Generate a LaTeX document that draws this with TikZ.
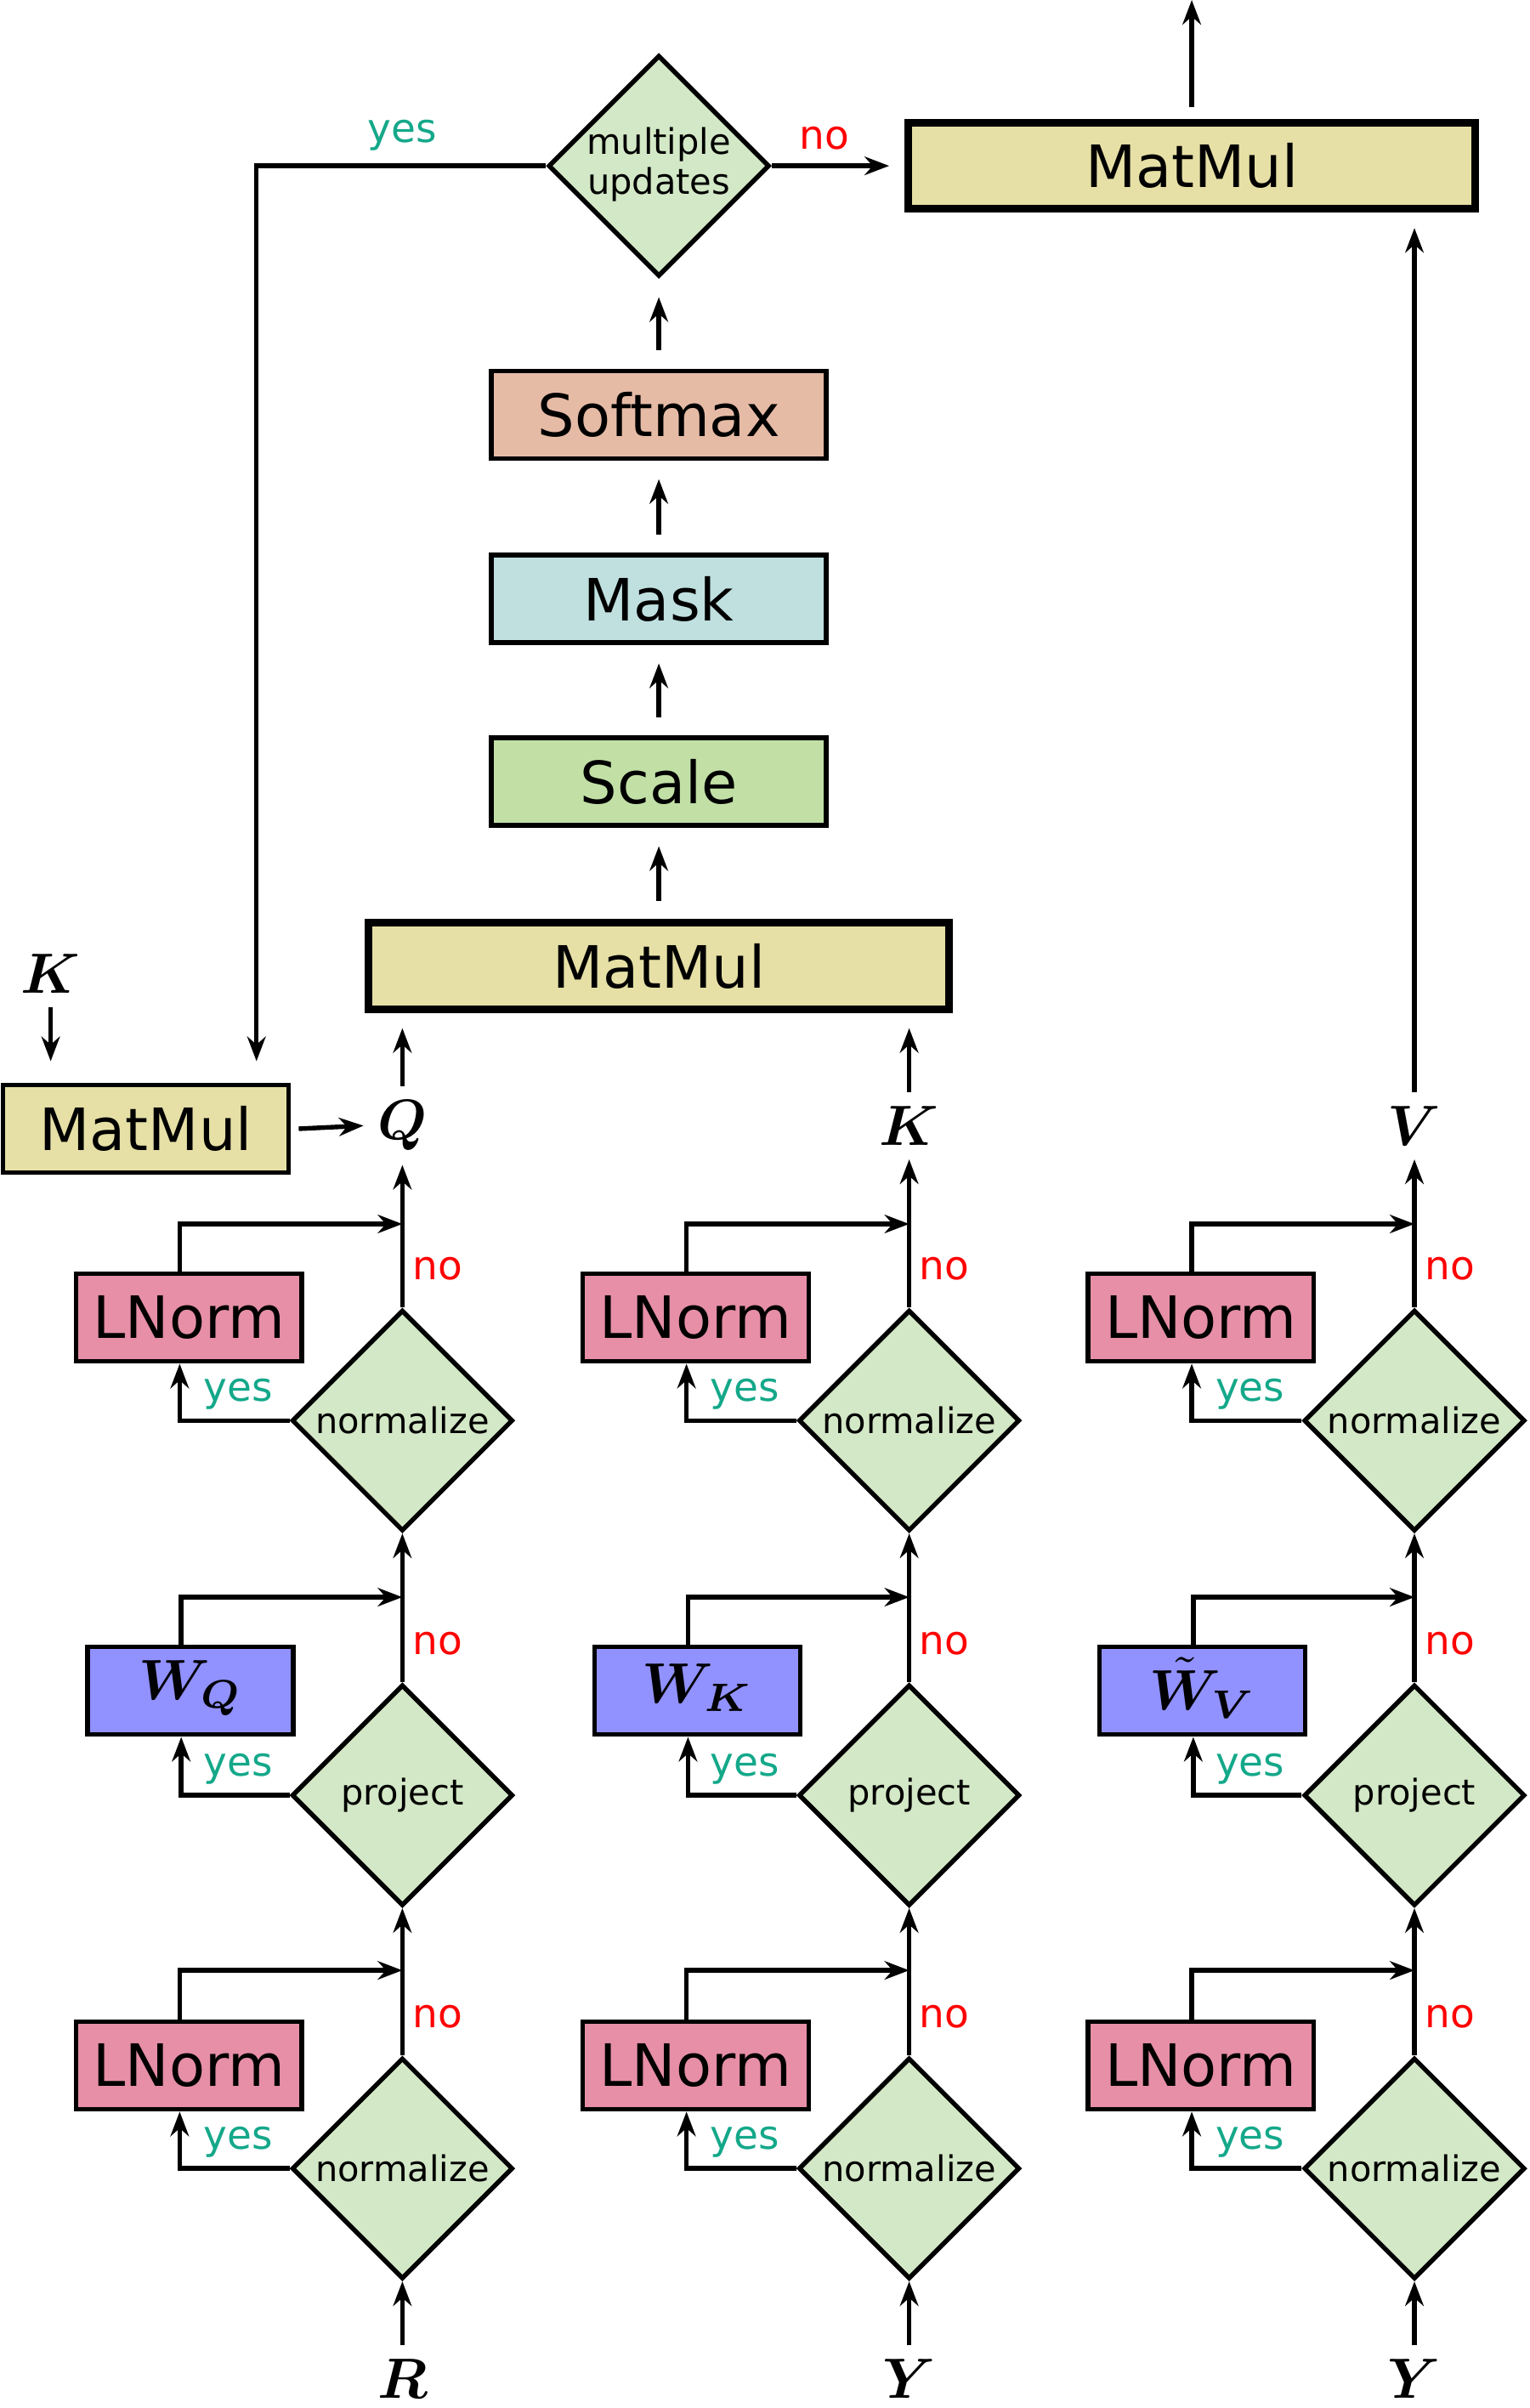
\documentclass[tikz,border=0pt]{standalone}
\usepackage{fontspec}
\usepackage{amsmath,bm}
\setmainfont{DejaVu Sans}
\usetikzlibrary{shapes.geometric,arrows.meta}
\definecolor{lnc}{RGB}{230,143,166}
\definecolor{wc}{RGB}{145,145,255}
\definecolor{dc}{RGB}{211,232,198}
\definecolor{scc}{RGB}{194,224,166}
\definecolor{mkc}{RGB}{192,224,224}
\definecolor{sfc}{RGB}{230,187,166}
\definecolor{mmc}{RGB}{230,224,166}
\definecolor{yesc}{RGB}{20,168,138}
\begin{document}
\begin{tikzpicture}[x=1pt,y=-1pt,line width=3pt,
 box/.style={draw,inner sep=0pt,font=\fontsize{38}{40}\selectfont},
 dia/.style={draw,fill=dc,diamond,inner sep=0pt,minimum width=144pt,minimum height=144pt},
 dl/.style={font=\fontsize{23}{24}\selectfont},
 yl/.style={text=yesc,font=\fontsize{26}{28}\selectfont},
 nl/.style={text=red,font=\fontsize{26}{28}\selectfont},
 ml/.style={scale=3.7,inner sep=1pt},
 ar/.style={-{Stealth[length=16pt,width=12pt]}}]
\useasboundingbox (0,0) rectangle (996,1568);
\foreach \c/\x/\w/\inp in {q/262/{\bm{W}_{\bm{Q}}}/R,k/592/{\bm{W}_{\bm{K}}}/Y,v/921/{\tilde{\bm{W}}_{\bm{V}}}/Y}{
 \pgfmathsetmacro{\bx}{\x-139}
 \node[dia] (\c d1) at (\x,1412) {};
 \node[dl] at (\x,1412) {normalize};
 \node[dia] (\c d2) at (\x,1169) {};
 \node[dl] at (\x,1169) {project};
 \node[dia] (\c d3) at (\x,925) {};
 \node[dl] at (\x,925) {normalize};
 \node[box,fill=lnc,minimum width=147pt,minimum height=57pt] (\c b1) at (\bx,1345) {LNorm};
 \node[box,fill=wc,minimum width=134pt,minimum height=57pt] (\c b2) at (\bx+1,1101) {};
 \node[ml] at (\bx+1,1099) {$\w$};
 \node[box,fill=lnc,minimum width=147pt,minimum height=57pt] (\c b3) at (\bx,858) {LNorm};
 \node[ml] (\c in) at (\x,1549) {$\bm{\inp}$};
 \draw[ar] (\c in.north) -- (\c d1.south);
 \foreach \i/\j/\yb/\yc in {1/2/1283/1412,2/3/1040/1169,3/4/797/925}{
  \ifnum\j<4
   \draw[ar] (\c d\i.north) -- (\c d\j.south);
  \fi
  \draw[ar] (\c d\i.west) -| ([xshift=-6pt]\c b\i.south);
  \draw[ar] ([xshift=-6pt]\c b\i.north) |- (\x,\yb);
  \node[yl] at (\x-107,\yc-17) {yes};
  \node[nl] at (\x+23,\yc-99) {no};
 }
}
\node[ml] (Q) at (262,733) {$\bm{Q}$};
\node[ml] (K) at (592,733) {$\bm{K}$};
\node[ml] (V) at (921,733) {$\bm{V}$};
\draw[ar] (qd3.north) -- (Q.south);
\draw[ar] (kd3.north) -- (K.south);
\draw[ar] (vd3.north) -- (V.south);
\node[box,fill=mmc,line width=5pt,minimum width=378pt,minimum height=56pt] (mm1) at (429,629) {MatMul};
\node[box,fill=scc,minimum width=218pt,minimum height=57pt] (sc) at (429,509) {Scale};
\node[box,fill=mkc,minimum width=218pt,minimum height=57pt] (mk) at (429,390) {Mask};
\node[box,fill=sfc,minimum width=218pt,minimum height=57pt] (sf) at (429,270) {Softmax};
\node[dia] (mu) at (429,108) {};
\node[dl,align=center,font=\fontsize{23}{26}\selectfont] at (429,107) {multiple\\updates};
\node[box,fill=mmc,line width=5pt,minimum width=369pt,minimum height=56pt] (mm2) at (776,108) {MatMul};
\node[box,fill=mmc,minimum width=186pt,minimum height=57pt] (mm0) at (95,735) {MatMul};
\node[ml] (K0) at (33,634) {$\bm{K}$};
\coordinate (top) at (776,0);
\draw[ar] (Q.north) -- ([yshift=-10pt]mm1.south -| Q);
\draw[ar] (K.north) -- ([yshift=-10pt]mm1.south -| K);
\draw[ar] (V.north) -- ([yshift=-10pt]mm2.south -| V);
\draw[ar,shorten <=12pt,shorten >=12pt] (mm1.north) -- (sc.south);
\draw[ar,shorten <=12pt,shorten >=12pt] (sc.north) -- (mk.south);
\draw[ar,shorten <=12pt,shorten >=12pt] (mk.north) -- (sf.south);
\draw[ar,shorten <=12pt,shorten >=12pt] (sf.north) -- (mu.south);
\draw[ar] (mu.east) -- ([xshift=-10pt]mm2.west);
\draw[ar] (mu.west) -| ([yshift=14pt]mm0.north -| 167,0);
\draw[ar] ([yshift=8pt]mm2.north) -- (top);
\draw[ar] (K0.south) -- ([yshift=14pt]mm0.north -| K0);
\draw[ar] ([xshift=5pt]mm0.east) -- (Q.west);
\node[yl] at (262,88) {yes};
\node[nl] at (537,90) {no};
\end{tikzpicture}
\end{document}
